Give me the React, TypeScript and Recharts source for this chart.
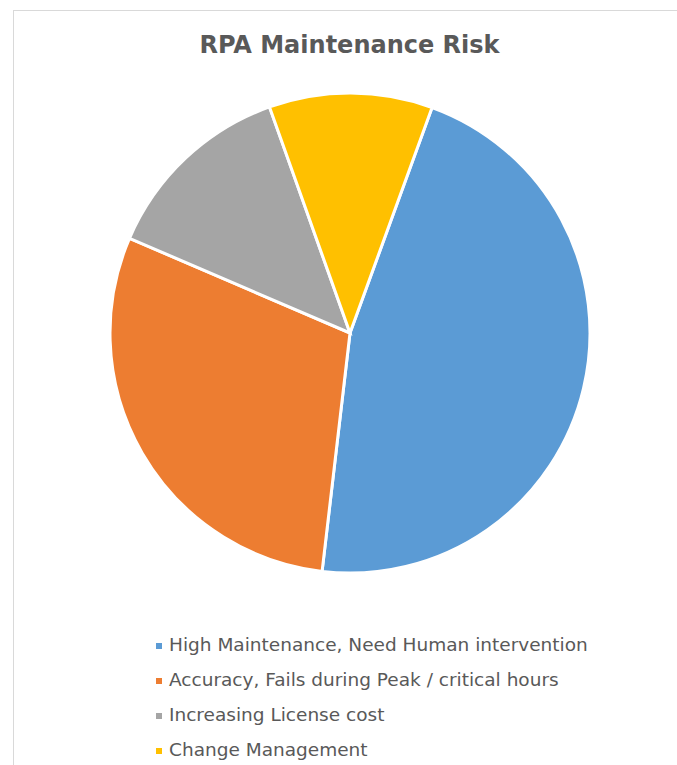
import { PieChart, Pie, Cell, Legend } from "recharts";

const RISKS = [
  "High Maintenance, Need Human intervention",
  "Accuracy, Fails during Peak / critical hours",
  "Increasing License cost",
  "Change Management",
];
const SHARES = [46.3, 29.6, 13.1, 11];
const COLORS = ["#5B9BD5", "#ED7D31", "#A5A5A5", "#FFC000"];

const data = RISKS.map((name, i) => ({ name, value: SHARES[i] }));

const FONT = "'DejaVu Sans', Verdana, sans-serif";

function RiskLegend() {
  return (
    <div style={{ fontFamily: FONT, fontSize: 18.5, color: "#595959" }}>
      {RISKS.map((name, i) => (
        <div
          key={name}
          style={{ display: "flex", alignItems: "center", height: 35 }}
        >
          <span
            style={{
              width: 6,
              height: 6,
              background: COLORS[i],
              marginRight: 7,
              marginTop: 3,
            }}
          />
          <span>{name}</span>
        </div>
      ))}
    </div>
  );
}

export default function App() {
  return (
    <div
      style={{
        position: "absolute",
        left: 0,
        top: 0,
        width: 677,
        height: 765,
        overflow: "hidden",
        background: "#fff",
      }}
    >
      <div
        style={{
          position: "absolute",
          left: 13,
          top: 10,
          width: 800,
          height: 900,
          borderTop: "1.5px solid #d9d9d9",
          borderLeft: "1.5px solid #d9d9d9",
        }}
      />
      <div
        style={{
          position: "absolute",
          left: 0,
          top: 31,
          width: 699,
          textAlign: "center",
          fontFamily: FONT,
          fontWeight: "bold",
          fontSize: 24,
          lineHeight: "28px",
          color: "#595959",
        }}
      >
        RPA Maintenance Risk
      </div>
      <div style={{ position: "absolute", left: 0, top: 0 }}>
        <PieChart
          width={677}
          height={765}
          margin={{ top: 0, right: 0, bottom: 0, left: 0 }}
        >
          <Pie
            data={data}
            dataKey="value"
            nameKey="name"
            cx={350}
            cy={333}
            outerRadius={240}
            startAngle={70}
            endAngle={-290}
            stroke="#fff"
            strokeWidth={3}
            isAnimationActive={false}
          >
            {data.map((d, i) => (
              <Cell key={d.name} fill={COLORS[i]} />
            ))}
          </Pie>
          <Legend
            content={<RiskLegend />}
            wrapperStyle={{ position: "absolute", left: 156, top: 627, width: 520 }}
          />
        </PieChart>
      </div>
    </div>
  );
}
